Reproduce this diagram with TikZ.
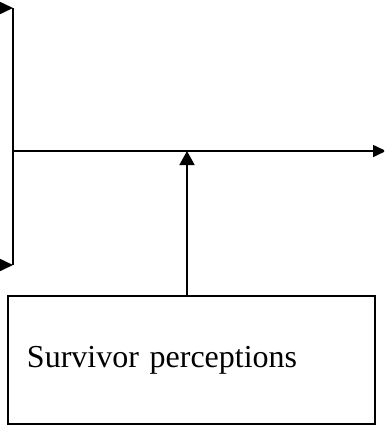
\documentclass[tikz,border=0pt]{standalone}
\usepackage{fontspec}
\setmainfont{Liberation Serif}
\usepackage{tikz}
\usetikzlibrary{arrows.meta,positioning}

\begin{document}
\begin{tikzpicture}[
    x=1pt, y=-1pt,
    box/.style={draw, line width=1.3pt, minimum height=128pt, text width=329pt,
                align=left, inner xsep=19pt, font=\fontsize{32}{38}\selectfont},
    link/.style={line width=1.6pt},
    flow/.style={link, -{Triangle[length=13pt, width=12pt]}}]
  \useasboundingbox (0,0) rectangle (384,426);
  \clip (0,0) rectangle (384,426);
  % the bar on the left and its two incoming arrows
  \coordinate (bartop) at (13,8);
  \coordinate (barbot) at (13,265);
  \coordinate (intop) at (-20,8);
  \coordinate (inbot) at (-20,265);
  \coordinate (junction) at (13,151);
  \coordinate (outend) at (386,151);
  \coordinate (meet) at (187,151);
  \node[box] (surv) at (191.5,360) {Survivor perceptions};
  \draw[flow] (intop) -- (bartop);
  \draw[flow] (inbot) -- (barbot);
  \draw[link] (bartop) -- (barbot);
  \draw[flow] (junction) -- (outend);
  \draw[link, -{Triangle[length=14pt, width=15pt]}] (surv.north -| meet) -- (meet);
\end{tikzpicture}
\end{document}
